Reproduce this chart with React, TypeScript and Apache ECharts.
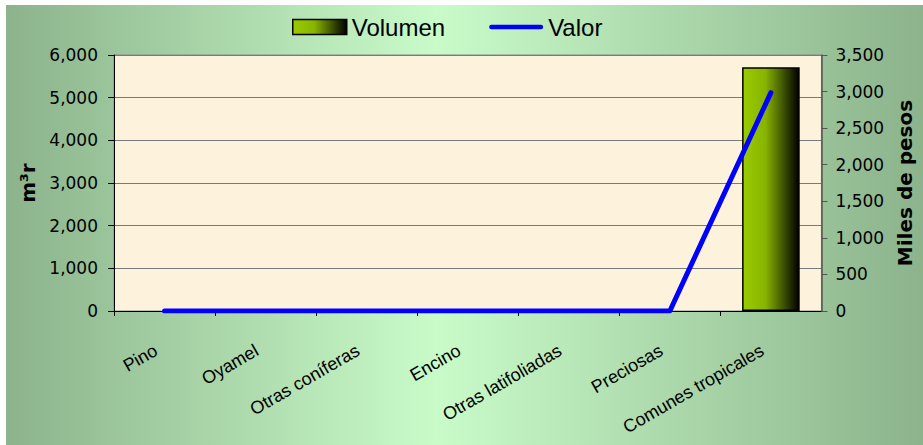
import React, { useEffect, useRef } from "react";
import * as echarts from "echarts";

const categories = [
  "Pino",
  "Oyamel",
  "Otras coníferas",
  "Encino",
  "Otras latifoliadas",
  "Preciosas",
  "Comunes tropicales",
];
const volumen = [0, 0, 0, 0, 0, 0, 5710];
const valor = [0, 0, 0, 0, 0, 0, 2985];
const leftTicks = { min: 0, max: 6000, interval: 1000 };
const rightTicks = { min: 0, max: 3500, interval: 500 };

const FONT = "Liberation Sans";
const WIDE = "DejaVu Sans";

export default function App() {
  const ref = useRef<HTMLDivElement>(null);
  useEffect(() => {
    if (!ref.current) return;
    const chart = echarts.init(ref.current, null, { renderer: "svg" });
    const fmt = (v: number) => v.toLocaleString("en-US");
    const barGrad = () =>
      new echarts.graphic.LinearGradient(0, 0, 1, 0, [
        { offset: 0, color: "#99cc00" },
        { offset: 0.4, color: "#88b400" },
        { offset: 1, color: "#000000" },
      ]);
    chart.setOption({
      animation: false,
      backgroundColor: new echarts.graphic.LinearGradient(0, 0, 1, 0, [
        { offset: 0, color: "#8cb38c" },
        { offset: 0.47, color: "#c9fbc9" },
        { offset: 1, color: "#8cb38c" },
      ]),
      textStyle: { fontFamily: FONT },
      legend: {
        left: 281,
        top: 5,
        itemWidth: 54,
        itemHeight: 15,
        itemGap: 44,
        textStyle: { fontFamily: FONT, fontSize: 24, color: "#000" },
        data: [
          {
            name: "Volumen",
            icon: "rect",
            itemStyle: { color: barGrad(), borderColor: "#000", borderWidth: 1.5 },
          },
          {
            name: "Valor",
            icon: "path://M0,0 L0,0 Z M60,15 L60,15 Z M2.5,5 L57.5,5 A2.5,2.5 0 0 1 57.5,10 L2.5,10 A2.5,2.5 0 0 1 2.5,5 Z",
            itemStyle: { color: "#0000ff", borderWidth: 0 },
          },
        ],
      },
      grid: {
        left: 108,
        right: 98,
        top: 50,
        bottom: 134,
        show: true,
        backgroundColor: "#fdf2dc",
        borderColor: "#8a8a8a",
        borderWidth: 1,
      },
      xAxis: {
        type: "category",
        data: categories,
        axisLine: { lineStyle: { color: "#000", width: 1 } },
        axisTick: { show: true, length: 5, lineStyle: { color: "#000" } },
        axisLabel: {
          rotate: 30,
          margin: 33,
          padding: [0, 10, 0, 0],
          fontFamily: FONT,
          fontSize: 18,
          color: "#000",
          interval: 0,
        },
      },
      yAxis: [
        {
          type: "value",
          ...leftTicks,
          name: "m³r",
          nameLocation: "middle",
          nameRotate: 90,
          nameGap: 60,
          nameTextStyle: { fontFamily: WIDE, fontSize: 20, fontWeight: "bold", color: "#000" },
          axisLine: { show: true, lineStyle: { color: "#000", width: 1 } },
          axisTick: { show: true, length: 6, lineStyle: { color: "#000" } },
          axisLabel: { fontFamily: WIDE, fontSize: 17, color: "#000", margin: 16, formatter: fmt },
          splitLine: { show: true, lineStyle: { color: "#7a7a7a", width: 1 } },
        },
        {
          type: "value",
          ...rightTicks,
          position: "right",
          name: "Miles de pesos",
          nameLocation: "middle",
          nameRotate: 90,
          nameGap: 64,
          nameTextStyle: { fontFamily: WIDE, fontSize: 20, fontWeight: "bold", color: "#000" },
          axisLine: { show: true, lineStyle: { color: "#555", width: 1.5 } },
          axisTick: { show: true, length: 6, lineStyle: { color: "#555" } },
          axisLabel: { fontFamily: WIDE, fontSize: 17, color: "#000", margin: 14, formatter: fmt },
          splitLine: { show: false },
        },
      ],
      series: [
        {
          name: "Volumen",
          type: "bar",
          data: volumen.map((v) => ({ value: v, itemStyle: { borderWidth: v > 0 ? 1.5 : 0 } })),
          yAxisIndex: 0,
          barWidth: "57%",
          itemStyle: { color: barGrad(), borderColor: "#000", borderWidth: 1.5 },
        },
        {
          name: "Valor",
          type: "line",
          data: valor,
          yAxisIndex: 1,
          symbol: "none",
          z: 5,
          lineStyle: { color: "#0000ff", width: 5, cap: "round", join: "round" },
          itemStyle: { color: "#0000ff" },
        },
      ],
    });
    return () => chart.dispose();
  }, []);
  return (
    <div style={{ position: "absolute", left: 0, top: 0, width: 923, height: 445, background: "#fff" }}>
      <div ref={ref} style={{ position: "absolute", left: 6, top: 5, width: 917, height: 440 }} />
    </div>
  );
}
